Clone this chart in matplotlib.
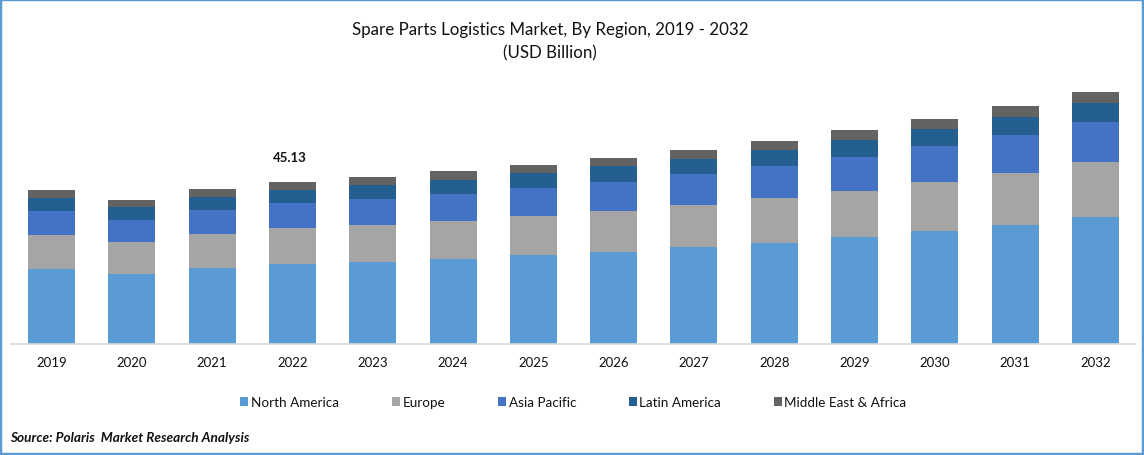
import matplotlib
matplotlib.use("Agg")
import matplotlib.pyplot as plt
from matplotlib.patches import Rectangle

years = [str(y) for y in range(2019, 2033)]
north_america = [20.9, 19.5, 21.17, 22.28, 22.84, 23.68, 24.79, 25.63, 27.02, 28.13, 29.81, 31.48, 33.15, 35.38]
europe = [9.47, 8.91, 9.47, 10.03, 10.31, 10.58, 10.86, 11.42, 11.7, 12.53, 12.81, 13.65, 14.48, 15.32]
asia_pacific = [6.69, 6.13, 6.69, 6.96, 7.24, 7.52, 7.8, 8.08, 8.64, 8.91, 9.47, 10.03, 10.58, 11.14]
latin_america = [3.62, 3.62, 3.62, 3.62, 3.9, 3.9, 4.18, 4.46, 4.18, 4.46, 4.74, 4.74, 5.01, 5.29]
mea = [2.23, 1.95, 2.23, 2.23, 2.23, 2.51, 2.23, 2.23, 2.51, 2.51, 2.79, 2.79, 3.06, 3.06]
series = [("North America", north_america, "#5B9BD5"),
          ("Europe", europe, "#A5A5A5"),
          ("Asia Pacific", asia_pacific, "#4472C4"),
          ("Latin America", latin_america, "#255E91"),
          ("Middle East & Africa", mea, "#636363")]
annot_index = 3
annot_text = "45.13"

plt.rcParams['font.family'] = ['Lato', 'DejaVu Sans']
W, H = 1144, 456
fig = plt.figure(figsize=(W/100, H/100), dpi=100)
ax = fig.add_axes([11/W, 1-345/H, (1136-11)/W, (345-81)/H])

x = list(range(len(years)))
bottom = [0.0]*len(years)
for name, vals, col in series:
    ax.bar(x, vals, width=0.585, bottom=bottom, color=col, label=name, linewidth=0)
    bottom = [b+v for b, v in zip(bottom, vals)]

ax.set_xlim(-0.504, 13.504)
ax.set_ylim(0, 264/3.59)
ax.set_xticks(x)
ax.set_xticklabels(years, fontsize=9.5, color="#111111")
ax.tick_params(axis='x', length=0, pad=8.5)
ax.set_yticks([])
for s in ('top', 'left', 'right'):
    ax.spines[s].set_visible(False)
ax.spines['bottom'].set_color("#D9D9D9")
ax.spines['bottom'].set_linewidth(1.2)

ax.text(annot_index-0.03, bottom[annot_index]+5.4, annot_text, ha='center', va='bottom',
        fontsize=9.5, fontweight='bold', color="#111111")

fig.text(550/W, 1-30.5/H, "Spare Parts Logistics Market, By Region, 2019 - 2032",
         ha='center', va='center', fontsize=12.15, color="#111111")
fig.text(550/W, 1-53.5/H, "(USD Billion)", ha='center', va='center', fontsize=12.15, color="#111111")

leg = fig.legend(loc='center', bbox_to_anchor=(573.5/W, 1-403/H), ncols=5, frameon=False,
                 fontsize=9.7, handlelength=0.6, handleheight=0.6, handletextpad=0.2,
                 columnspacing=3.9, labelcolor="#111111")

fig.text(10.5/W, 1-438.5/H, "Source: Polaris  Market Research Analysis", ha='left', va='center',
         fontsize=9.8, fontweight='bold', fontstyle='italic', color="#111111")

fig.add_artist(Rectangle((0, 0), 1, 1, transform=fig.transFigure, fill=False,
                         edgecolor="#5B9BD5", linewidth=3.2))
fig.savefig("out.png", dpi=100)
